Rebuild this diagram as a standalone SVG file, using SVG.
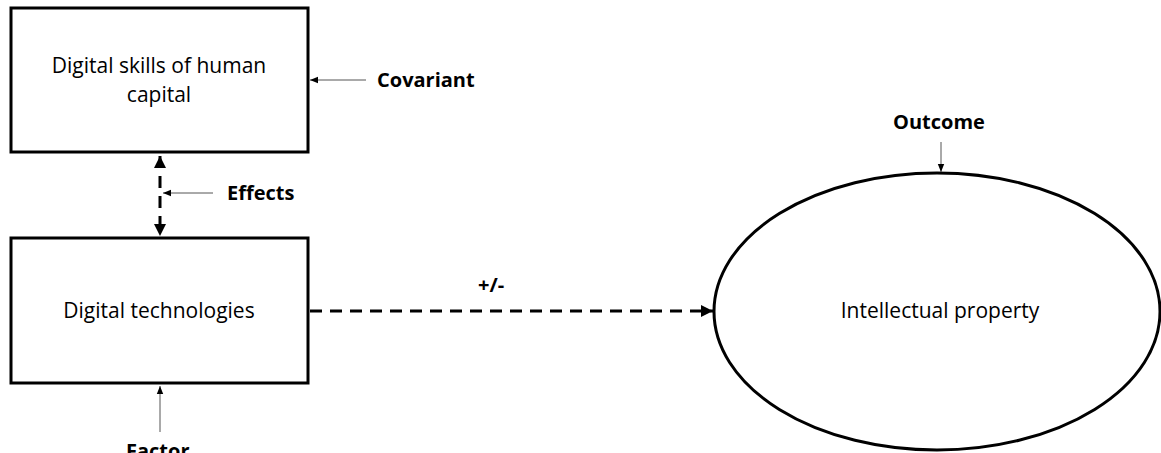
<svg xmlns="http://www.w3.org/2000/svg" width="1161" height="453" viewBox="0 0 1161 453">
<style>
.box{fill:#fff;stroke:#000;stroke-width:3}
.lbl{font-family:"Open Sans","Liberation Sans",sans-serif;font-size:21px;fill:#000;text-anchor:middle}
.bold{font-family:"Open Sans","Liberation Sans",sans-serif;font-size:20px;font-weight:bold;fill:#000}
.dash{stroke:#000;stroke-width:3;stroke-dasharray:12 8;fill:none}
.thin{stroke:#555;stroke-width:1;fill:none}
</style>
<defs>
<marker id="ah" viewBox="0 0 10 10" refX="10" refY="5" markerWidth="4" markerHeight="4" orient="auto-start-reverse" markerUnits="strokeWidth"><path d="M0,0L10,5L0,10z" fill="#000"/></marker>
<marker id="ahs" viewBox="0 0 10 10" refX="10" refY="5" markerWidth="8" markerHeight="8" orient="auto" markerUnits="strokeWidth"><path d="M0,1L10,5L0,9z" fill="#000"/></marker>
</defs>
<g id="skills"><rect class="box" x="11" y="8" width="297" height="144"/><text class="lbl" x="159" y="73">Digital skills of human</text><text class="lbl" x="159" y="102">capital</text></g>
<g id="tech"><rect class="box" x="11" y="238" width="297" height="145"/><text class="lbl" x="159" y="318">Digital technologies</text></g>
<g id="ip"><ellipse cx="937" cy="311.5" rx="223" ry="138.5" fill="#fff" stroke="#000" stroke-width="3"/><text class="lbl" x="940" y="318">Intellectual property</text></g>
<g id="labels">
<text class="bold" x="377" y="87">Covariant</text>
<text class="bold" x="227" y="200">Effects</text>
<text class="bold" x="478" y="292">+/-</text>
<text class="bold" x="893" y="129">Outcome</text>
<text class="bold" x="126" y="458">Factor</text>
</g>
<g id="connectors">
<line class="dash" x1="160" y1="156" x2="160" y2="236" marker-start="url(#ah)" marker-end="url(#ah)"/>
<line class="dash" x1="310" y1="311" x2="713" y2="311" marker-end="url(#ah)"/>
<line class="thin" x1="366" y1="80" x2="310" y2="80" marker-end="url(#ahs)"/>
<line class="thin" x1="213" y1="193" x2="163" y2="193" marker-end="url(#ahs)"/>
<line class="thin" x1="160" y1="432" x2="160" y2="386" marker-end="url(#ahs)"/>
<line class="thin" x1="941" y1="142" x2="941" y2="172" marker-end="url(#ahs)"/>
</g>
</svg>
